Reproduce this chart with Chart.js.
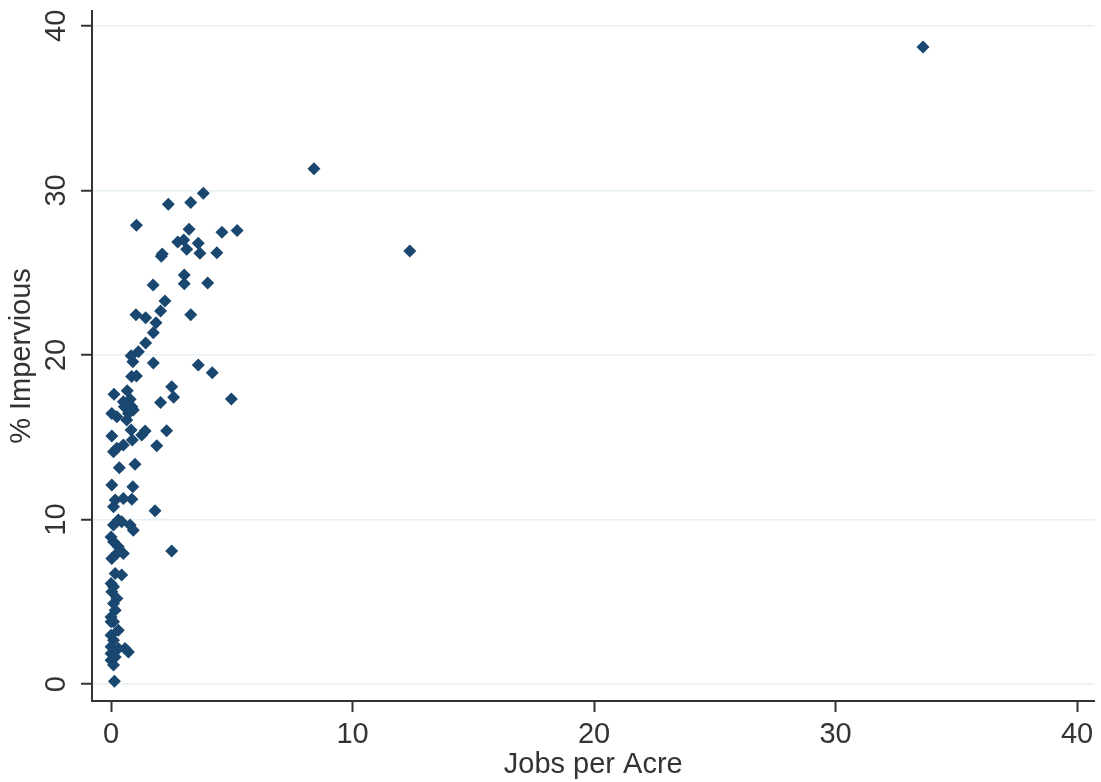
<!DOCTYPE html>
<html>
<head>
<meta charset="utf-8">
<script src="https://cdn.jsdelivr.net/npm/chart.js@4"></script>
<style>
  html, body { margin: 0; padding: 0; background: #fff; }
  #wrap { width: 1101px; height: 782px; position: relative; }
</style>
</head>
<body>
<div id="wrap"><canvas id="scatter"></canvas></div>
<script>
// values
const jobsPerAcre = [
  33.62, 8.40, 12.37, 3.82, 2.37, 3.30, 1.05, 3.23, 4.59, 5.22,
  2.76, 3.01, 3.61, 3.13, 2.12, 2.08, 3.68, 4.38, 3.03, 3.03,
  4.00, 1.74, 2.23, 2.05, 3.30, 1.03, 1.43, 1.86, 1.75, 1.43,
  1.13, 0.83, 0.90, 1.75, 3.61, 4.19, 0.85, 1.05, 2.51, 2.59,
  4.98, 0.12, 0.67, 2.05, 0.51, 0.79, 0.86, 0.55, 0.72, 0.65,
  0.92, 0.03, 0.24, 0.83, 1.41, 1.27, 2.30, 0.88, 0.03, 1.89,
  0.51, 0.24, 0.10, 0.99, 0.34, 0.03, 0.90, 0.17, 0.51, 0.86,
  0.10, 1.82, 0.30, 0.10, 0.44, 0.79, 0.92, 2.51, 0.00, 0.10,
  0.30, 0.24, 0.51, 0.03, 0.17, 0.44, 0.00, 0.10, 0.03, 0.24,
  0.10, 0.17, 0.00, 0.10, 0.00, 0.30, 0.00, 0.10, 0.00, 0.30,
  0.72, 0.58, 0.00, 0.17, 0.00, 0.10, 0.14
];
const pctImpervious = [
  38.72, 31.31, 26.32, 29.83, 29.16, 29.26, 27.88, 27.64, 27.46, 27.56,
  26.87, 26.99, 26.79, 26.42, 26.14, 26.00, 26.18, 26.22, 24.86, 24.33,
  24.38, 24.26, 23.28, 22.67, 22.45, 22.45, 22.27, 21.96, 21.36, 20.73,
  20.20, 19.96, 19.59, 19.51, 19.39, 18.92, 18.70, 18.72, 18.07, 17.43,
  17.33, 17.61, 17.83, 17.12, 17.16, 17.31, 16.86, 16.86, 16.45, 16.05,
  16.66, 16.45, 16.25, 15.44, 15.38, 15.14, 15.40, 14.83, 15.08, 14.49,
  14.53, 14.33, 14.12, 13.36, 13.15, 12.10, 11.99, 11.19, 11.29, 11.23,
  10.78, 10.54, 9.97, 9.67, 9.87, 9.67, 9.36, 8.10, 8.95, 8.65,
  8.35, 7.94, 7.94, 7.64, 6.73, 6.63, 6.12, 5.92, 5.61, 5.21,
  4.91, 4.50, 4.09, 3.79, 3.79, 3.28, 2.98, 2.67, 2.27, 2.17,
  1.96, 2.17, 1.87, 1.66, 1.46, 1.16, 0.18
];
const xTicks = [0, 10, 20, 30, 40];
const yTicks = [0, 10, 20, 30, 40];
const xTitle = 'Jobs per Acre';
const yTitle = '% Impervious';

const FONT = "'Liberation Sans', Arial, sans-serif";
const INK = '#333333';

// y tick labels in the picture are turned on their side
const sideLabels = {
  id: 'sideLabels',
  afterDraw(chart) {
    const ctx = chart.ctx;
    const ys = chart.scales.y;
    ctx.save();
    ctx.fillStyle = INK;
    ctx.font = '29px ' + FONT;
    ctx.textAlign = 'center';
    ctx.textBaseline = 'alphabetic';
    yTicks.forEach(v => {
      const py = ys.getPixelForValue(v);
      ctx.save();
      ctx.translate(65, py);
      ctx.rotate(-Math.PI / 2);
      ctx.fillText(String(v), 0, 0);
      ctx.restore();
    });
    ctx.restore();
  }
};

new Chart(document.getElementById('scatter'), {
  type: 'scatter',
  data: {
    datasets: [{
      data: jobsPerAcre.map((x, i) => ({ x: x, y: pctImpervious[i] })),
      pointStyle: 'rectRot',
      pointRadius: 6.5,
      pointHoverRadius: 6.5,
      backgroundColor: '#1a476f',
      borderColor: '#1a476f',
      borderWidth: 0
    }]
  },
  options: {
    responsive: true,
    maintainAspectRatio: false,
    animation: false,
    layout: { padding: { top: 11, right: 5, left: 0, bottom: 0 } },
    plugins: { legend: { display: false }, tooltip: { enabled: false } },
    scales: {
      x: {
        type: 'linear',
        min: -0.79,
        max: 40.72,
        afterBuildTicks: s => { s.ticks = xTicks.map(v => ({ value: v })); },
        afterFit: s => { s.height = 81; },
        grid: { drawOnChartArea: false, tickLength: 11, tickWidth: 2, tickColor: INK },
        border: { display: true, color: INK, width: 2 },
        ticks: { color: INK, font: { family: FONT, size: 29 }, padding: 6, maxRotation: 0 },
        title: { display: true, text: xTitle, color: INK, font: { family: FONT, size: 29 }, padding: 0 }
      },
      y: {
        type: 'linear',
        min: -1.02,
        max: 40.9,
        afterBuildTicks: s => { s.ticks = yTicks.map(v => ({ value: v })); },
        afterFit: s => { s.width = 92; },
        grid: { color: '#e6eff1', lineWidth: 1.5, tickLength: 11, tickWidth: 2, tickColor: INK },
        border: { display: true, color: INK, width: 2 },
        ticks: { display: false },
        title: { display: true, text: yTitle, color: INK, font: { family: FONT, size: 29 }, padding: 5 }
      }
    }
  },
  plugins: [sideLabels]
});
</script>
</body>
</html>
